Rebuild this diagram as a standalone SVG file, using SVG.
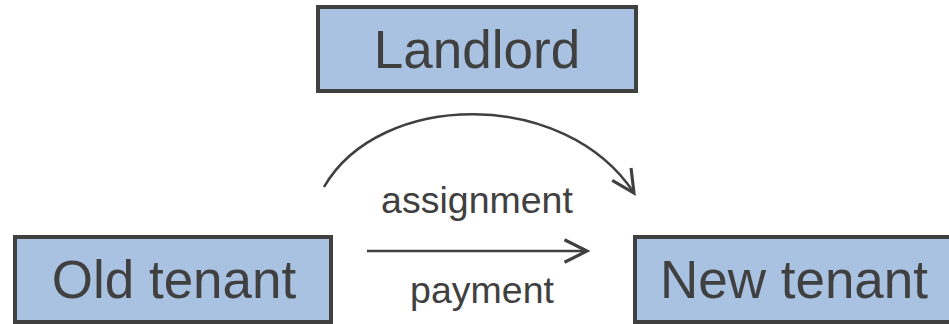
<svg xmlns="http://www.w3.org/2000/svg" width="949" height="324" viewBox="0 0 949 324">
<defs>
<style>
.box{fill:#A9C2E1;stroke:#404040;stroke-width:4}
.lbl{font-family:"Liberation Sans",Arial,sans-serif;font-size:53px;fill:#404040;text-anchor:middle}
.edge{fill:none;stroke:#404040;stroke-width:2.5}
.elbl{font-family:"Liberation Sans",Arial,sans-serif;font-size:37.5px;fill:#404040;text-anchor:middle}
</style>
<marker id="arr" markerUnits="userSpaceOnUse" markerWidth="30" markerHeight="30" viewBox="-20 -12 24 24" refX="0" refY="0" orient="auto">
<path d="M-18,-9 L0,0 L-18,9" fill="none" stroke="#404040" stroke-width="2.5"/>
</marker>
</defs>
<rect width="949" height="324" fill="#ffffff"/>
<g id="landlord">
<rect class="box" x="318" y="7" width="318" height="84"/>
<text class="lbl" x="477" y="68">Landlord</text>
</g>
<g id="old-tenant">
<rect class="box" x="15" y="237" width="316" height="85"/>
<text class="lbl" x="174" y="298">Old tenant</text>
</g>
<g id="new-tenant">
<rect class="box" x="635" y="237" width="318" height="85"/>
<text class="lbl" x="794" y="298">New tenant</text>
</g>
<g id="connectors">
<path class="edge" d="M324,187 C380,90 565,88 634,193" marker-end="url(#arr)"/>
<text class="elbl" x="477" y="213">assignment</text>
<path class="edge" d="M367,251 L587,251" marker-end="url(#arr)"/>
<text class="elbl" x="482" y="303">payment</text>
</g>
</svg>
